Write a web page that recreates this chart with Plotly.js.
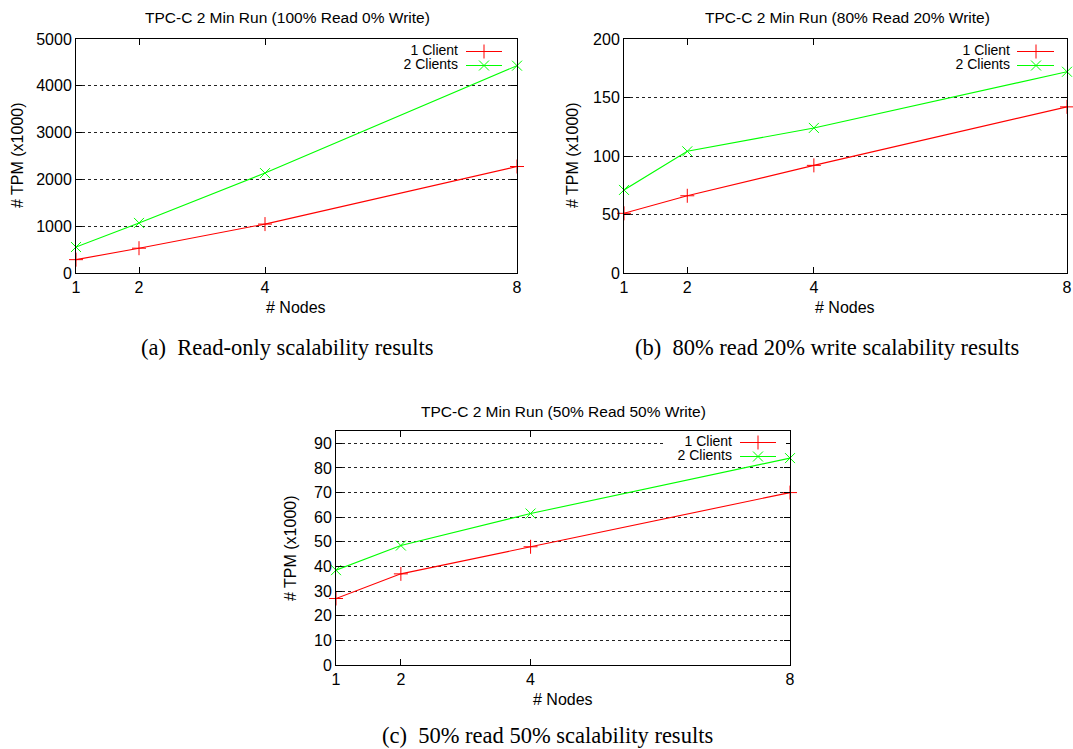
<!DOCTYPE html>
<html>
<head>
<meta charset="utf-8">
<script src="https://cdn.plot.ly/plotly-3.0.1.min.js"></script>
<style>html,body{margin:0;padding:0;background:#fff;}#chart{width:1073px;height:749px;}</style>
</head>
<body>
<div id="chart"></div>
<script>
// ---- Data ----
const nodes = [1, 2, 4, 8];
const nodeTicks = ['1', '2', '4', '8'];
const seriesNames = ['1 Client', '2 Clients'];

const readOnly1Client = [285, 530, 1045, 2275];
const readOnly2Clients = [555, 1070, 2135, 4430];

const rw80_1Client = [51, 66, 92, 142];
const rw80_2Clients = [71, 104, 124, 172];

const rw50_1Client = [27, 37, 48, 70];
const rw50_2Clients = [38.5, 48.5, 61.5, 84];

const panelTitles = [
  'TPC-C 2 Min Run (100% Read 0% Write)',
  'TPC-C 2 Min Run (80% Read 20% Write)',
  'TPC-C 2 Min Run (50% Read 50% Write)'
];
const captions = [
  '(a)  Read-only scalability results',
  '(b)  80% read 20% write scalability results',
  '(c)  50% read 50% scalability results'
];
const yTitle = '# TPM (x1000)';
const xTitle = '# Nodes';

// ---- Layout helpers (pixel -> paper) ----
const W = 1073, H = 749;
const px = x => x / W;
const py = y => 1 - y / H;

const RED = '#ff0000', GREEN = '#00ff00';
const FONT = 'Liberation Sans, Arial, sans-serif';
const TICKSIZE = 16;
const LEGSIZE = 14;
const CAPSIZE = 22.5;

const panels = [
  {x: [76, 517], y: [39, 273], yr: [0, 5000], ytv: [0, 1000, 2000, 3000, 4000, 5000],
   d1: readOnly1Client, d2: readOnly2Clients,
   title: [287, 18], xt: [296, 307], yt: [17, 155], capBottom: [287, 361],
   leg: {tr: 458, lx: [466, 502], mx: 484, rows: [51.5, 65.5]}},
  {x: [624, 1067], y: [39, 273], yr: [0, 200], ytv: [0, 50, 100, 150, 200],
   d1: rw80_1Client, d2: rw80_2Clients,
   title: [847, 18], xt: [845, 307], yt: [572, 155], capBottom: [827, 361],
   leg: {tr: 1010, lx: [1017, 1054], mx: 1036, rows: [51.5, 65.5]}},
  {x: [336, 790], y: [431, 665], yr: [0, 95], ytv: [0, 10, 20, 30, 40, 50, 60, 70, 80, 90],
   d1: rw50_1Client, d2: rw50_2Clients,
   title: [563, 411], xt: [563, 699], yt: [290, 548], capBottom: [547, 749],
   leg: {tr: 732, lx: [740, 776], mx: 758, rows: [442.5, 456.5]}, legBox: [663, 438, 786, 449]}
];

const traces = [];
const overlayTraces = [];
const layout = {
  width: W, height: H,
  margin: {l: 0, r: 0, t: 0, b: 0},
  paper_bgcolor: '#ffffff',
  plot_bgcolor: 'rgba(0,0,0,0)',
  showlegend: false,
  font: {family: FONT, size: TICKSIZE, color: '#000'},
  annotations: []
};

const markerStyle = (i, color) => ({
  symbol: i === 0 ? 'cross-thin-open' : 'x-thin-open',
  size: 10,
  color: color,
  line: {color: color, width: 1}
});

panels.forEach((p, k) => {
  const n = k + 1;
  const xa = 'xaxis' + (n === 1 ? '' : n);
  const ya = 'yaxis' + (n === 1 ? '' : n);
  const xr = 'x' + (n === 1 ? '' : n);
  const yr = 'y' + (n === 1 ? '' : n);
  layout[xa] = {
    domain: [px(p.x[0]), px(p.x[1])], anchor: yr,
    type: 'linear', range: [1, 8],
    tickvals: nodes, ticktext: nodeTicks,
    ticks: 'inside', ticklen: 6, tickwidth: 1, tickcolor: '#000',
    showline: true, linecolor: '#000', linewidth: 1, mirror: 'ticks',
    showgrid: false, zeroline: false, ticklabeloverflow: 'allow',
    tickfont: {family: FONT, size: TICKSIZE, color: '#000'}
  };
  layout[ya] = {
    domain: [py(p.y[1]), py(p.y[0])], anchor: xr,
    range: p.yr, tickvals: p.ytv,
    ticks: 'inside', ticklen: 6, tickwidth: 1, tickcolor: '#000',
    showline: true, linecolor: '#000', linewidth: 1, mirror: 'ticks',
    showgrid: true, gridcolor: '#222', griddash: 'dot', gridwidth: 1,
    zeroline: false,
    tickfont: {family: FONT, size: TICKSIZE, color: '#000'}
  };
  [p.d1, p.d2].forEach((d, i) => {
    const c = i === 0 ? RED : GREEN;
    traces.push({
      type: 'scatter', mode: 'lines+markers', x: nodes, y: d,
      xaxis: xr, yaxis: yr, name: seriesNames[i],
      line: {color: c, width: 1.1}, marker: markerStyle(i, c),
      cliponaxis: false, hoverinfo: 'skip'
    });
  });
  // titles
  layout.annotations.push({text: panelTitles[k], xref: 'paper', yref: 'paper',
    x: px(p.title[0]), y: py(p.title[1]), xanchor: 'center', yanchor: 'middle',
    showarrow: false, font: {family: FONT, size: 15.5, color: '#000'}});
  layout.annotations.push({text: xTitle, xref: 'paper', yref: 'paper',
    x: px(p.xt[0]), y: py(p.xt[1]), xanchor: 'center', yanchor: 'middle',
    showarrow: false, font: {family: FONT, size: TICKSIZE, color: '#000'}});
  layout.annotations.push({text: yTitle, xref: 'paper', yref: 'paper', textangle: -90,
    x: px(p.yt[0]), y: py(p.yt[1]), xanchor: 'center', yanchor: 'middle',
    showarrow: false, font: {family: FONT, size: TICKSIZE, color: '#000'}});
  layout.annotations.push({text: captions[k], xref: 'paper', yref: 'paper',
    x: px(p.capBottom[0]), y: py(p.capBottom[1]), xanchor: 'center', yanchor: 'bottom',
    borderpad: 0, showarrow: false,
    font: {family: 'Liberation Serif, serif', size: CAPSIZE, color: '#000'}});
  // legend (pixel-space overlay)
  if (p.legBox) {
    const b = p.legBox;
    overlayTraces.push({
      type: 'scatter', mode: 'lines', x: [b[0], b[2], b[2], b[0], b[0]], y: [b[1], b[1], b[3], b[3], b[1]],
      xaxis: 'x4', yaxis: 'y4', fill: 'toself', fillcolor: '#ffffff', line: {width: 0, color: '#ffffff'},
      hoverinfo: 'skip'
    });
  }
  seriesNames.forEach((nm, i) => {
    const c = i === 0 ? RED : GREEN;
    const ry = p.leg.rows[i];
    overlayTraces.push({
      type: 'scatter', mode: 'text', x: [p.leg.tr], y: [ry], text: [nm],
      textposition: 'middle left', xaxis: 'x4', yaxis: 'y4',
      textfont: {family: FONT, size: LEGSIZE, color: '#000'},
      hoverinfo: 'skip', cliponaxis: false
    });
    overlayTraces.push({
      type: 'scatter', mode: 'lines', x: p.leg.lx, y: [ry, ry],
      xaxis: 'x4', yaxis: 'y4', line: {color: c, width: 1.1},
      hoverinfo: 'skip', cliponaxis: false
    });
    overlayTraces.push({
      type: 'scatter', mode: 'markers', x: [p.leg.mx], y: [ry],
      xaxis: 'x4', yaxis: 'y4', marker: markerStyle(i, c),
      hoverinfo: 'skip', cliponaxis: false
    });
  });
});

// overlay pixel-space axes for legend samples
layout.xaxis4 = {domain: [0, 1], range: [0, W], visible: false, anchor: 'y4', fixedrange: true};
layout.yaxis4 = {domain: [0, 1], range: [H, 0], visible: false, anchor: 'x4', fixedrange: true};

Plotly.newPlot('chart', traces.concat(overlayTraces), layout, {staticPlot: true, displayModeBar: false});
</script>
</body>
</html>
